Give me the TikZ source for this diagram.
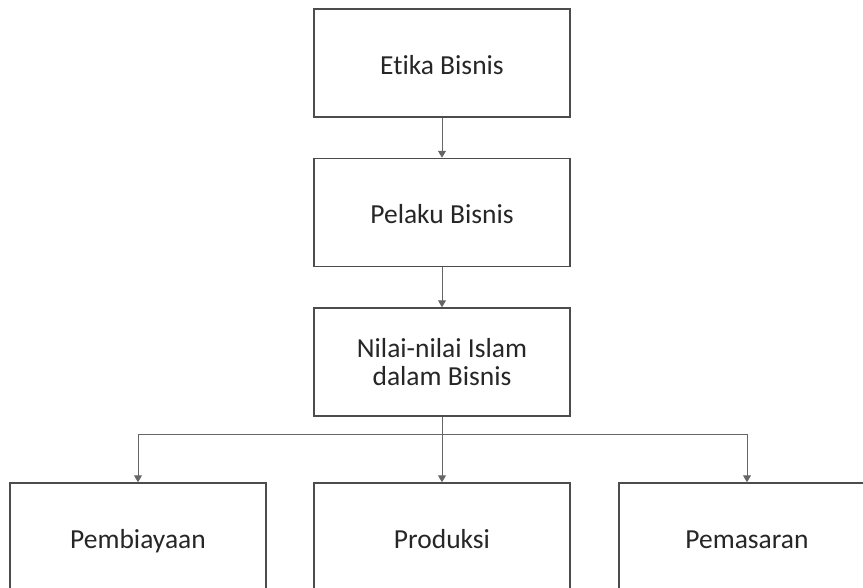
\documentclass[tikz,border=0pt]{standalone}
\usepackage{fontspec}
\setmainfont[Ligatures=NoCommon]{Carlito}
\usepackage{tikz}
\usetikzlibrary{arrows.meta}
\usetikzlibrary{positioning}
\tikzset{
    levelBox/.style={
    ,   rectangle
    ,   draw=black!70
    ,   line width=1.5pt
    ,   minimum width=256pt
    ,   minimum height=108pt
    ,   align=center
    ,   text=black!85
    ,   font={\fontsize{27.5pt}{28pt}\selectfont}
    },
    oneLine/.style={ % keep baselines level
    ,   levelBox
    ,   text height=24pt
    ,   text depth=2pt
    },
    flowLine/.style={
    ,   draw=black!60
    ,   line width=1pt
    },
    flowArrow/.style={
    ,   flowLine
    ,   -{Triangle[length=7pt,width=8pt]}
    }
}
\begin{document}
\begin{tikzpicture}[x=1pt, y=-1pt]
\useasboundingbox (0,0) rectangle (863,587);
\clip (0,0) rectangle (863,587); % bottom row runs off the page

\node[oneLine] (etika) at (442,63) {Etika Bisnis};
\node[oneLine] (pelaku) at (442,212.5) {Pelaku Bisnis};
\node[levelBox] (nilai) at (442,362) {Nilai-nilai Islam\\dalam Bisnis};

\node[oneLine] (pembiayaan) at (138,537) {Pembiayaan};
\node[oneLine] (produksi) at (442,537) {Produksi};
\node[oneLine] (pemasaran) at (747,537) {Pemasaran};

\draw[flowArrow] (etika) -- (pelaku);
\draw[flowArrow] (pelaku) -- (nilai);

\coordinate (J) at (442,434); % branch point
\draw[flowLine] (nilai) -- (J);
\foreach \b in {pembiayaan,produksi,pemasaran}{
  \draw[flowArrow] (J) -| (\b.north);
}
\end{tikzpicture}
\end{document}
